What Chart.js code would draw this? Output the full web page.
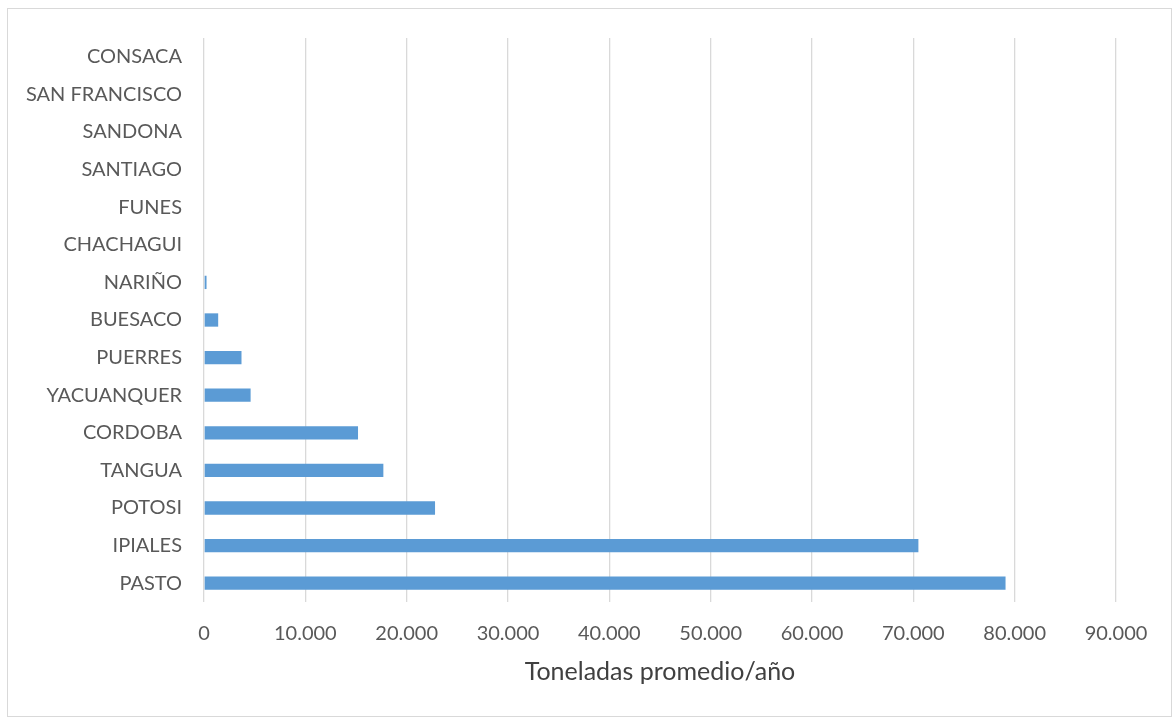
<!DOCTYPE html>
<html>
<head>
<meta charset="utf-8">
<script src="https://cdn.jsdelivr.net/npm/chart.js@4"></script>
<style>
  html, body { margin: 0; padding: 0; background: #ffffff; }
  #wrap { width: 1172px; height: 717px; position: relative; }
</style>
</head>
<body>
<div id="wrap"><canvas id="chart"></canvas></div>
<script>
// Municipios (top to bottom as drawn)
const municipios = [
  'CONSACA', 'SAN FRANCISCO', 'SANDONA', 'SANTIAGO', 'FUNES', 'CHACHAGUI',
  'NARIÑO', 'BUESACO', 'PUERRES', 'YACUANQUER', 'CORDOBA', 'TANGUA',
  'POTOSI', 'IPIALES', 'PASTO'
];
// Toneladas promedio por año
const toneladas = [
  0, 0, 0, 0, 0, 0,
  250, 1400, 3700, 4600, 15200, 17700,
  22800, 70500, 79100
];
const ejeMin = 0;
const ejeMax = 90000;
const ejePaso = 10000;
const tituloEje = 'Toneladas promedio/año';

const FONT = 'Lato, "Liberation Sans", sans-serif';

function miles(v) {
  return String(Math.round(v)).replace(/\B(?=(\d{3})+(?!\d))/g, '.');
}

const marco = {
  id: 'marco',
  beforeDraw(chart) {
    const ctx = chart.ctx;
    ctx.save();
    ctx.fillStyle = '#ffffff';
    ctx.fillRect(0, 0, chart.width, chart.height);
    ctx.strokeStyle = '#d9d9d9';
    ctx.lineWidth = 1;
    ctx.strokeRect(7.5, 8.5, chart.width - 8, chart.height - 9);
    ctx.restore();
  }
};

new Chart(document.getElementById('chart'), {
  type: 'bar',
  data: {
    labels: municipios,
    datasets: [{
      data: toneladas,
      backgroundColor: '#5b9bd5',
      borderWidth: 0,
      categoryPercentage: 1,
      barPercentage: 0.354
    }]
  },
  options: {
    indexAxis: 'y',
    responsive: true,
    maintainAspectRatio: false,
    animation: false,
    layout: { padding: { top: 38, right: 56, left: 0, bottom: 0 } },
    plugins: { legend: { display: false }, tooltip: { enabled: false } },
    scales: {
      x: {
        min: ejeMin,
        max: ejeMax,
        afterFit(s) { s.height = 115; },
        grid: { color: '#d9d9d9', lineWidth: 1.3, drawTicks: false },
        border: { display: false },
        ticks: {
          stepSize: ejePaso,
          padding: 20,
          color: '#595959',
          font: { family: FONT, size: 20 },
          callback: (v) => miles(v)
        },
        title: {
          display: true,
          text: tituloEje,
          color: '#404040',
          font: { family: FONT, size: 25 },
          padding: { top: 0, bottom: 30 }
        }
      },
      y: {
        afterFit(s) { s.width = 204; },
        grid: { display: false, drawTicks: false },
        border: { display: false },
        ticks: {
          padding: 22,
          color: '#595959',
          font: { family: FONT, size: 20 },
          autoSkip: false
        }
      }
    }
  },
  plugins: [marco]
});
</script>
</body>
</html>
